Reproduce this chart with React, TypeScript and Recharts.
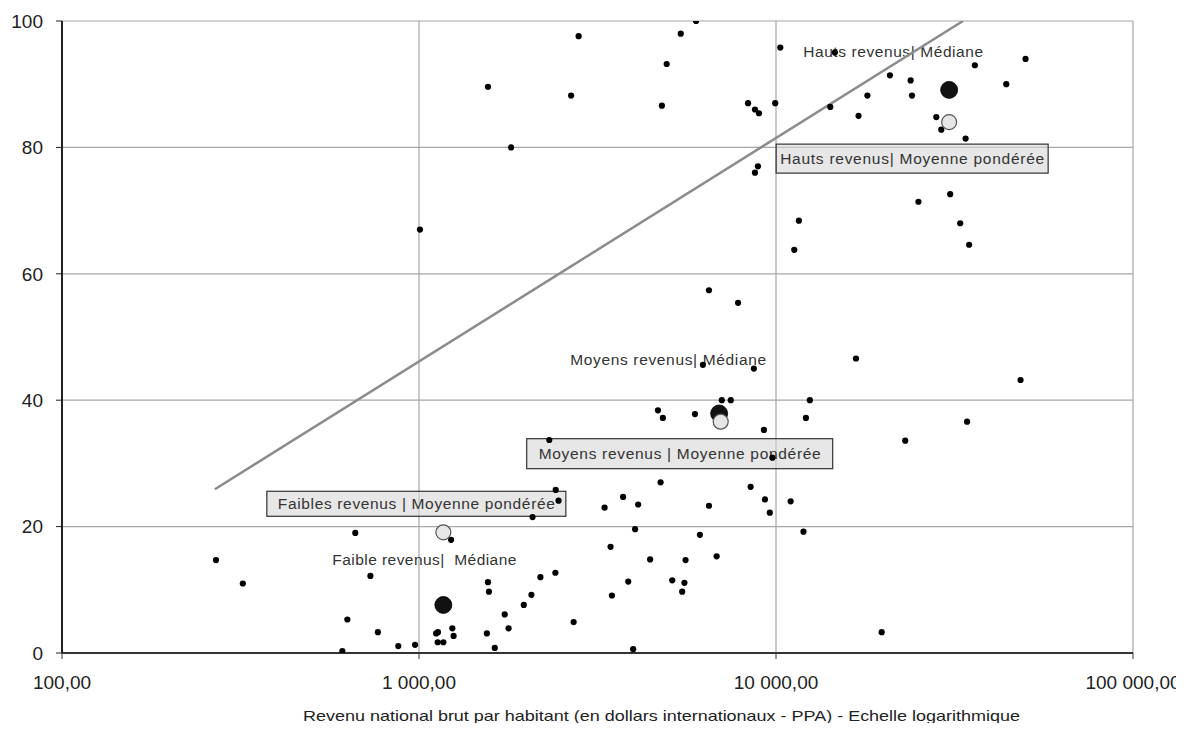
import React from "react";
import { ScatterChart, Scatter, XAxis, YAxis, CartesianGrid } from "recharts";

// Revenu national brut par habitant (PPA) of each country
const countryIncome = [
  5970, 5410, 2800, 10280, 4940, 1560, 2667, 4790, 8350, 8730, 8960, 9950, 1811, 8900, 8730, 1006, 11590, 11250, 6490, 7830,
  14620, 50000, 36060, 20850, 23830, 44150, 18030, 24040, 14190, 17030, 28120, 29040, 33970, 30760, 25060, 32810, 34750,
  16750, 48420, 12440, 12130, 34290, 23010, 10990, 11940, 19770,
  6240, 8670, 7050, 7470, 4670, 4820, 5930, 9250, 2317, 9770, 4750, 8490, 2415, 3730, 2460, 9310, 3310, 4110, 6490, 9610,
  2080, 4030, 6120, 1230, 3440, 4440, 5580, 6820, 2188, 2410, 1560, 1570, 2065, 3856, 5120, 5540, 5460, 3470, 1966, 1738,
  1782, 2711, 1549, 1630, 3980, 1117, 1130, 1128, 1170, 1240, 1250, 975,
  270, 321, 663, 731, 630, 767, 610, 875,
];
const countryValue = [
  100, 98.0, 97.6, 95.8, 93.2, 89.6, 88.2, 86.6, 87.0, 86.0, 85.4, 87.0, 80.0, 77.0, 76.0, 67.0, 68.4, 63.8, 57.4, 55.4,
  95.0, 94.0, 93.0, 91.4, 90.6, 90.0, 88.2, 88.2, 86.4, 85.0, 84.8, 82.8, 81.4, 72.6, 71.4, 68.0, 64.6,
  46.6, 43.2, 40.0, 37.2, 36.6, 33.6, 24.0, 19.2, 3.3,
  45.6, 45.0, 40.0, 40.0, 38.4, 37.2, 37.8, 35.3, 33.7, 30.9, 27.0, 26.3, 25.8, 24.7, 24.1, 24.3, 23.0, 23.5, 23.3, 22.2,
  21.5, 19.6, 18.7, 17.9, 16.8, 14.8, 14.7, 15.3, 12.0, 12.7, 11.2, 9.7, 9.2, 11.3, 11.5, 11.1, 9.7, 9.1, 7.6, 6.1,
  3.9, 4.9, 3.1, 0.8, 0.6, 3.1, 3.3, 1.7, 1.7, 3.9, 2.7, 1.3,
  14.7, 11.0, 19.0, 12.2, 5.3, 3.3, 0.3, 1.1,
];

// Group statistics
const groupNames = [
  "Faible revenus|\u00A0\u00A0Médiane",
  "Faibles revenus | Moyenne pondérée",
  "Moyens revenus| Médiane",
  "Moyens revenus | Moyenne pondérée",
  "Hauts revenus| Médiane",
  "Hauts revenus| Moyenne pondérée",
];
const groupStat = ["median", "mean", "median", "mean", "median", "mean"];
const groupIncome = [1170, 1170, 6930, 7000, 30550, 30550];
const groupValue = [7.6, 19.1, 37.9, 36.6, 89.1, 84.0];

// Trend line
const trendIncome = [268, 33400];
const trendValue = [25.9, 100];

const xTicks = [100, 1000, 10000, 100000];
const yTicks = [0, 20, 40, 60, 80, 100];
const xTitle = "Revenu national brut par habitant (en dollars internationaux - PPA) - Echelle logarithmique";

const countryData = countryIncome.map((x, i) => ({ x, y: countryValue[i] }));
const groupData = groupIncome.map((x, i) => ({ x, y: groupValue[i], name: groupNames[i], stat: groupStat[i], idx: i }));
const medianData = groupData.filter((d) => d.stat === "median");
const meanData = groupData.filter((d) => d.stat === "mean");
const trendData = trendIncome.map((x, i) => ({ x, y: trendValue[i] }));

// label layout: offset of label centre from the point, text width, box size (styling only)
const LABEL_LAYOUT = [
  { dx: -19, dy: -45, tw: 184, box: null },
  { dx: -27, dy: -28.5, tw: 277, box: [299, 25] },
  { dx: -51, dy: -54, tw: 196, box: null },
  { dx: -41, dy: 32, tw: 282, box: [306, 30] },
  { dx: -56, dy: -38, tw: 180, box: null },
  { dx: -37, dy: 36.5, tw: 264, box: [272, 29] },
];

const FONT = "'Liberation Sans', Arial, sans-serif";

const fmtX = (v: number) => {
  const s = Math.round(v).toString().replace(/\B(?=(\d{3})+(?!\d))/g, " ");
  return s + ",00";
};

const LabelShape = (props: any) => {
  const { cx, cy, payload } = props;
  if (cx == null || cy == null) return <g />;
  const L = LABEL_LAYOUT[payload.idx];
  const x = cx + L.dx;
  const y = cy + L.dy;
  return (
    <g>
      {L.box && (
        <rect
          x={x - L.box[0] / 2}
          y={y - L.box[1] / 2}
          width={L.box[0]}
          height={L.box[1]}
          fill="rgba(215,215,215,0.6)"
          stroke="#333"
          strokeWidth={1.2}
        />
      )}
      <text
        x={x}
        y={y}
        textAnchor="middle"
        dominantBaseline="central"
        fontSize={15.5}
        fontFamily={FONT}
        fill="#333"
        textLength={L.tw}
        lengthAdjust="spacing"
      >
        {payload.name}
      </text>
    </g>
  );
};

const SmallDot = (props: any) => {
  const { cx, cy } = props;
  if (cx == null || cy == null) return <g />;
  return <circle cx={cx} cy={cy} r={3.1} fill="#000" />;
};

const MedianDot = (props: any) => {
  const { cx, cy } = props;
  if (cx == null || cy == null) return <g />;
  return <circle cx={cx} cy={cy} r={8.5} fill="#111" stroke="#000" strokeWidth={0.8} />;
};

const MeanDot = (props: any) => {
  const { cx, cy } = props;
  if (cx == null || cy == null) return <g />;
  return <circle cx={cx} cy={cy} r={7.5} fill="#e6e6e6" stroke="#555" strokeWidth={1.2} />;
};

const TitleLabel = (props: any) => {
  const vb = props.viewBox || {};
  const cx = (vb.x || 0) + (vb.width || 0) / 2 + 64;
  return (
    <text
      x={cx}
      y={713}
      textAnchor="middle"
      fontSize={15}
      fontFamily={FONT}
      fill="#222"
      textLength={717}
      lengthAdjust="spacingAndGlyphs"
    >
      {xTitle}
    </text>
  );
};

export default function App() {
  return (
    <div style={{ width: 1176, height: 715, fontFamily: FONT }}>
      <style>{"html,body{overflow:hidden !important} .recharts-surface{overflow:visible !important}"}</style>
      <ScatterChart
        width={1176}
        height={715}
        margin={{ top: 13, right: 51, bottom: 0, left: 0 }}
        style={{ fontFamily: FONT }}
      >
        <CartesianGrid stroke="#a6a6a6" strokeWidth={1.2} />
        <XAxis
          dataKey="x"
          type="number"
          scale="log"
          domain={[100, 100000]}
          ticks={xTicks}
          allowDataOverflow
          tickFormatter={fmtX}
          height={70}
          axisLine={{ stroke: "#333", strokeWidth: 2 }}
          tickLine={{ stroke: "#333" }}
          tickSize={6}
          tickMargin={17}
          tick={{ fill: "#222", fontSize: 19, fontFamily: FONT }}
          label={{ content: TitleLabel }}
        />
        <YAxis
          dataKey="y"
          type="number"
          domain={[0, 100]}
          ticks={yTicks}
          allowDataOverflow
          width={54}
          axisLine={{ stroke: "#222", strokeWidth: 2 }}
          tickLine={{ stroke: "#222" }}
          tickSize={6}
          tickMargin={13}
          tick={{ fill: "#222", fontSize: 19, fontFamily: FONT }}
        />
        <Scatter data={groupData} shape={LabelShape} isAnimationActive={false} legendType="none" />
        <Scatter
          data={trendData}
          line={{ stroke: "#8c8c8c", strokeWidth: 2.5 }}
          shape={() => <g />}
          isAnimationActive={false}
          legendType="none"
        />
        <Scatter data={countryData} shape={SmallDot} isAnimationActive={false} legendType="none" />
        <Scatter data={medianData} shape={MedianDot} isAnimationActive={false} legendType="none" />
        <Scatter data={meanData} shape={MeanDot} isAnimationActive={false} legendType="none" />
      </ScatterChart>
    </div>
  );
}
